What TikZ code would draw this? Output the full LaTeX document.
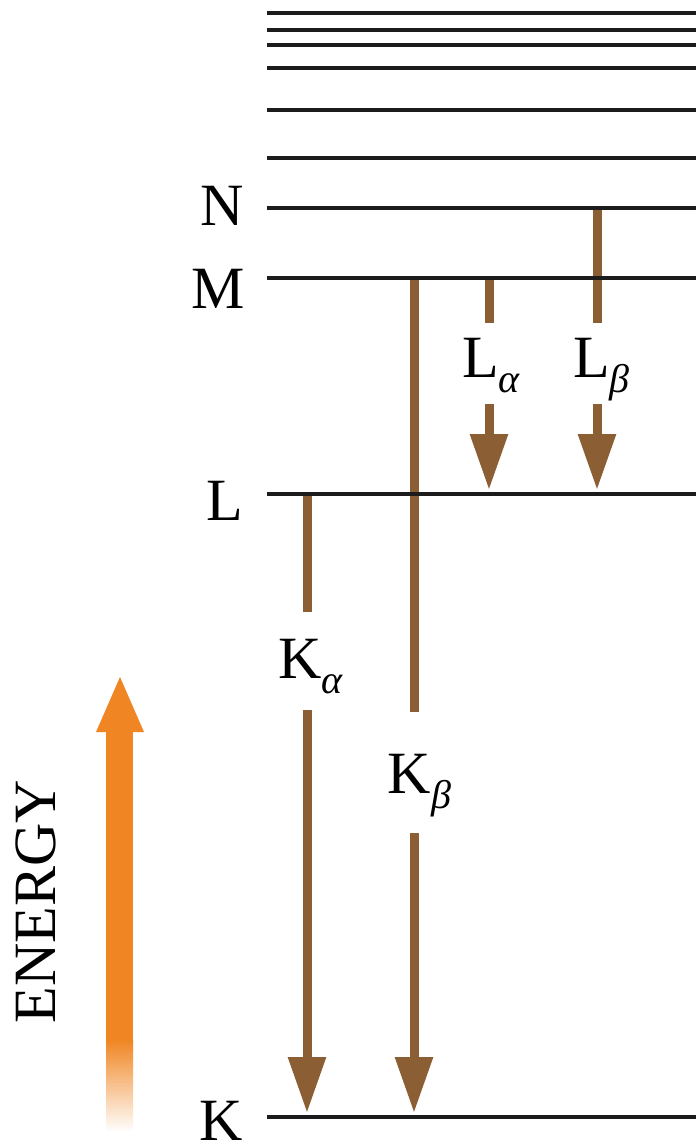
\documentclass[tikz,border=0pt]{standalone}
\usepackage{fontspec}
\setmainfont{Liberation Serif}
\usetikzlibrary{arrows.meta}
\definecolor{levelc}{RGB}{28,28,28}
\definecolor{transc}{RGB}{139,94,52}
\definecolor{energyc}{RGB}{240,134,35}
\newcommand{\lvsub}[1]{\raisebox{-15pt}{\fontsize{40}{40}\selectfont\itshape #1}}
\begin{document}
\begin{tikzpicture}[x=1pt,y=-1pt,
  level/.style={draw=levelc,line width=4pt},
  trans/.style={draw=transc,line width=9pt},
  transhead/.style={trans,-{Triangle[width=36pt,length=56pt]}},
  lvlname/.style={font=\fontsize{60}{60}\selectfont,inner sep=0pt,anchor=base east},
  tlabel/.style={font=\fontsize{60}{60}\selectfont,inner sep=0pt,anchor=base},
]
\useasboundingbox (0,0) rectangle (696,1144);

% level names
\node[lvlname] (nN) at (244,225) {N};
\node[lvlname] (nM) at (245,308) {M};
\node[lvlname] (nL) at (243,520) {L};
\node[lvlname] (nK) at (243,1140) {K};

% transition labels
\node[tlabel] (la) at (491,377) {L\lvsub{α}};
\node[tlabel] (lb) at (601.5,377) {L\lvsub{β}};
\node[tlabel] (ka) at (310.5,678) {K\lvsub{α}};
\node[tlabel] (kb) at (419.5,793) {K\lvsub{β}};

% coordinates for transitions
\coordinate (laA) at (489,278); \coordinate (laB) at (489,323);
\coordinate (laC) at (489,404); \coordinate (laD) at (489,490);
\coordinate (lbA) at (597,208); \coordinate (lbB) at (597,323);
\coordinate (lbC) at (597,404); \coordinate (lbD) at (597,490);
\coordinate (kaA) at (307,494); \coordinate (kaB) at (307,612);
\coordinate (kaC) at (307,710); \coordinate (kaD) at (307,1113);
\coordinate (kbA) at (414,278); \coordinate (kbB) at (414,712);
\coordinate (kbC) at (414,833); \coordinate (kbD) at (414,1113);

\draw[trans] (laA) -- (laB);
\draw[transhead] (laC) -- (laD);
\draw[trans] (lbA) -- (lbB);
\draw[transhead] (lbC) -- (lbD);
\draw[trans] (kaA) -- (kaB);
\draw[transhead] (kaC) -- (kaD);
\draw[trans] (kbA) -- (kbB);
\draw[transhead] (kbC) -- (kbD);

% energy levels
\foreach \y in {13,30,45,68,110,158}
  \draw[level] (267,\y) -- (696,\y);
\coordinate (Nw) at (267,208); \coordinate (Ne) at (696,208);
\coordinate (Mw) at (267,278); \coordinate (Me) at (696,278);
\coordinate (Lw) at (267,494); \coordinate (Le) at (696,494);
\coordinate (Kw) at (267,1117); \coordinate (Ke) at (696,1117);
\draw[level] (Nw) -- (Ne);
\draw[level] (Mw) -- (Me);
\draw[level] (Lw) -- (Le);
\draw[level] (Kw) -- (Ke);

% energy arrow
\fill[energyc] (106,731) rectangle (133,1040);
\shade[top color=energyc,bottom color=white] (106,1040) rectangle (133,1132);
\fill[energyc] (96,732) -- (144,732) -- (120,677) -- cycle;
\node[rotate=90,font=\fontsize{60}{60}\selectfont,inner sep=0pt,anchor=base] (energy) at (55,901.5) {ENERGY};
\end{tikzpicture}
\end{document}
